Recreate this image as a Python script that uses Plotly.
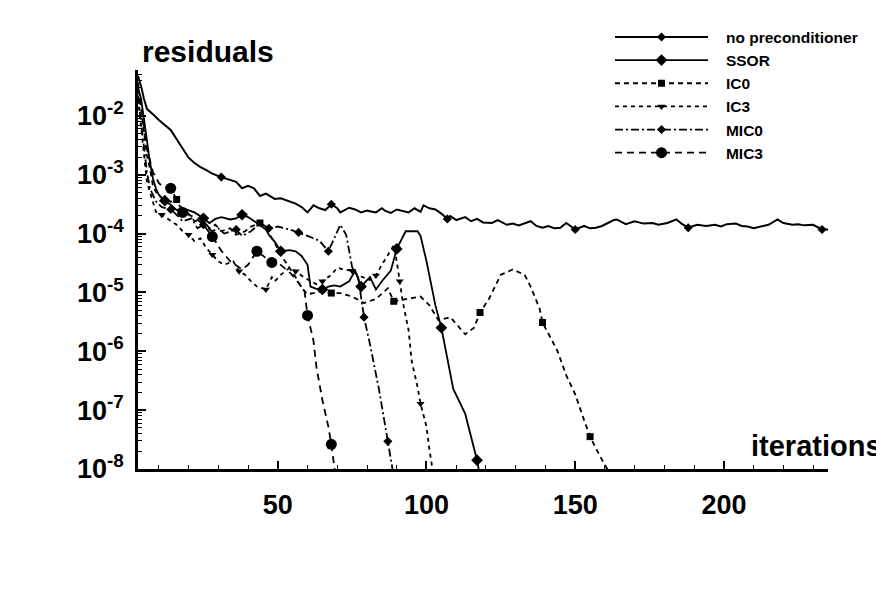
import plotly.graph_objects as go

# ---------------- data (iteration, log10 of residual) ----------------
it_none = [3, 4, 5, 6, 8, 10, 14, 16, 18, 20, 22, 24, 26, 28, 31, 34, 36, 38, 40, 42, 44, 46, 49, 51, 54, 56,
           58, 60, 62, 64, 66, 68, 70, 71, 74, 76, 78, 80, 83, 85, 86, 88, 90, 93, 94, 96, 98, 99, 101, 103,
           105, 107, 108, 110, 113, 115, 117, 119, 122, 124, 127, 129, 131, 135, 137, 139, 141, 143, 145, 147,
           150, 153, 155, 157, 159, 161, 163, 164, 167, 170, 173, 176, 178, 181, 184, 186, 188, 191, 194, 197,
           199, 201, 204, 206, 208, 210, 213, 215, 217, 218, 220, 223, 225, 227, 230, 233, 235]
lg_none = [-1.32, -1.49, -1.71, -1.88, -1.97, -2.07, -2.24, -2.40, -2.56, -2.71, -2.80, -2.87, -2.92, -2.98,
           -3.04, -3.09, -3.12, -3.23, -3.19, -3.23, -3.36, -3.32, -3.41, -3.40, -3.46, -3.49, -3.55, -3.64,
           -3.52, -3.57, -3.60, -3.50, -3.57, -3.64, -3.56, -3.59, -3.64, -3.61, -3.64, -3.57, -3.61, -3.65,
           -3.59, -3.63, -3.64, -3.57, -3.63, -3.52, -3.57, -3.59, -3.66, -3.75, -3.70, -3.77, -3.72, -3.79,
           -3.75, -3.81, -3.82, -3.77, -3.85, -3.83, -3.86, -3.79, -3.87, -3.90, -3.87, -3.91, -3.90, -3.82,
           -3.93, -3.87, -3.91, -3.90, -3.87, -3.82, -3.77, -3.76, -3.84, -3.79, -3.83, -3.82, -3.85, -3.82,
           -3.76, -3.84, -3.90, -3.85, -3.87, -3.85, -3.88, -3.84, -3.83, -3.87, -3.88, -3.91, -3.87, -3.85,
           -3.79, -3.76, -3.82, -3.85, -3.84, -3.86, -3.85, -3.93, -3.93]
mk_none = [31, 68, 107, 150, 188, 233]

it_ssor = [3, 4, 5, 6, 7, 8, 9, 10, 12, 14, 16, 18, 20, 22, 25, 27, 29, 31, 34, 36, 38, 40, 43, 46, 47, 49, 51,
           54, 56, 58, 60, 61, 63, 65, 67, 69, 71, 74, 76, 78, 81, 83, 85, 88, 90, 93, 97, 98, 100, 103, 105,
           107, 109, 113, 117, 119]
lg_ssor = [-1.54, -1.70, -2.05, -2.44, -2.78, -3.06, -3.23, -3.34, -3.44, -3.51, -3.60, -3.57, -3.61, -3.64,
           -3.74, -3.82, -3.75, -3.72, -3.76, -3.74, -3.68, -3.72, -3.82, -3.93, -4.02, -4.14, -4.30, -4.28,
           -4.30, -4.38, -4.53, -4.90, -4.94, -4.95, -4.90, -4.88, -4.90, -4.81, -4.63, -4.90, -4.74, -4.95,
           -4.81, -4.63, -4.26, -3.96, -3.96, -4.04, -4.47, -5.22, -5.60, -6.09, -6.64, -7.06, -7.85, -8.41]
mk_ssor = [12, 25, 38, 51, 65, 78, 90, 105, 117]

it_ic0 = [3, 4, 5, 6, 7, 8, 9, 11, 14, 16, 18, 20, 22, 25, 27, 29, 31, 34, 36, 39, 41, 44, 46, 49, 51, 54, 56,
          58, 60, 62, 65, 68, 71, 75, 79, 83, 87, 89, 94, 98, 101, 104, 108, 113, 116, 118, 121, 125, 129, 133,
          135, 138, 139, 141, 144, 147, 150, 153, 155, 158, 163]
lg_ic0 = [-1.43, -1.88, -2.33, -2.67, -2.89, -3.18, -3.29, -3.40, -3.46, -3.42, -3.59, -3.66, -3.79, -3.77,
          -3.91, -3.85, -3.96, -3.91, -4.02, -3.96, -3.88, -3.82, -3.91, -4.16, -4.36, -4.58, -4.74, -4.92,
          -5.03, -5.01, -4.98, -5.01, -5.01, -5.07, -5.18, -5.11, -4.93, -5.15, -5.11, -5.07, -5.22, -5.47,
          -5.42, -5.71, -5.60, -5.34, -5.11, -4.70, -4.61, -4.70, -4.90, -5.27, -5.51, -5.71, -5.99, -6.41,
          -6.73, -7.17, -7.45, -7.75, -8.20]
mk_ic0 = [16, 44, 68, 89, 118, 139, 155]

it_ic3 = [3, 4, 5, 6, 8, 9, 11, 14, 16, 18, 20, 22, 24, 26, 28, 30, 32, 35, 37, 39, 41, 43, 46, 48, 49, 51, 54,
          56, 59, 61, 63, 65, 68, 70, 72, 75, 77, 81, 83, 85, 87, 89, 90, 91, 92, 94, 95, 97, 98, 100, 101, 103]
lg_ic3 = [-1.71, -2.22, -2.73, -3.12, -3.46, -3.63, -3.68, -3.79, -3.85, -3.96, -4.02, -4.13, -4.08, -4.25,
          -4.36, -4.47, -4.53, -4.47, -4.64, -4.70, -4.81, -4.90, -4.95, -4.74, -4.81, -4.70, -4.58, -4.64,
          -4.75, -4.81, -4.86, -4.81, -4.70, -4.58, -4.61, -4.63, -4.71, -4.79, -4.71, -4.53, -4.37, -4.20,
          -4.47, -4.81, -5.15, -5.65, -6.16, -6.61, -6.89, -7.28, -7.68, -8.30]
mk_ic3 = [11, 20, 28, 37, 46, 56, 65, 75, 83, 91, 98]

it_mic0 = [3, 4, 5, 6, 7, 8, 9, 11, 14, 16, 18, 21, 23, 25, 28, 30, 32, 36, 38, 41, 44, 47, 50, 54, 57, 60, 64,
           67, 69, 71, 73, 75, 77, 79, 81, 84, 87, 89]
lg_mic0 = [-1.66, -2.11, -2.56, -2.95, -3.23, -3.34, -3.45, -3.55, -3.59, -3.68, -3.79, -3.74, -3.91, -3.85,
           -3.96, -3.91, -4.00, -3.93, -4.04, -3.96, -3.82, -3.91, -3.88, -3.93, -3.98, -4.04, -4.12, -4.30,
           -4.08, -3.85, -4.02, -4.57, -4.74, -5.42, -5.88, -6.64, -7.53, -8.13]
mk_mic0 = [14, 25, 36, 47, 57, 67, 79, 87]

it_mic3 = [3, 4, 5, 6, 8, 10, 11, 14, 16, 18, 20, 22, 25, 28, 31, 34, 38, 40, 43, 46, 48, 50, 54, 56, 59, 60,
           62, 63, 65, 67, 68, 69, 70]
lg_mic3 = [-1.49, -1.83, -2.22, -2.56, -2.95, -3.14, -3.19, -3.23, -3.42, -3.64, -3.68, -3.72, -3.85, -4.05,
           -4.29, -4.47, -4.61, -4.53, -4.30, -4.41, -4.49, -4.49, -4.66, -4.77, -4.98, -5.39, -5.82, -6.27,
           -6.83, -7.28, -7.58, -7.96, -8.41]
mk_mic3 = [14, 18, 28, 43, 48, 60, 68]

x_ticks = [50, 100, 150, 200]
y_exps = [-8, -7, -6, -5, -4, -3, -2]

# ---------------- styling ----------------
FONT = "Liberation Sans, Arial, sans-serif"
PAD = "\u00a0\u00a0\u00a0"
series = [
    dict(name="no preconditioner", it=it_none, lg=lg_none, mk=mk_none, dash="solid", width=2.0,
         symbol="diamond", size=7),
    dict(name="SSOR", it=it_ssor, lg=lg_ssor, mk=mk_ssor, dash="solid", width=1.8,
         symbol="diamond", size=9),
    dict(name="IC0", it=it_ic0, lg=lg_ic0, mk=mk_ic0, dash="5px,4px", width=1.8,
         symbol="square", size=7),
    dict(name="IC3", it=it_ic3, lg=lg_ic3, mk=mk_ic3, dash="4px,4px", width=1.8,
         symbol="triangle-down", size=7),
    dict(name="MIC0", it=it_mic0, lg=lg_mic0, mk=mk_mic0, dash="8px,3px,2px,3px", width=1.8,
         symbol="diamond", size=7),
    dict(name="MIC3", it=it_mic3, lg=lg_mic3, mk=mk_mic3, dash="7px,5px", width=1.8,
         symbol="circle", size=11),
]

fig = go.Figure()
for s in series:
    ys = [10 ** v for v in s["lg"]]
    fig.add_trace(go.Scatter(x=s["it"], y=ys, mode="lines",
                             line=dict(color="black", width=s["width"], dash=s["dash"]),
                             showlegend=False, hoverinfo="skip"))
    lookup = dict(zip(s["it"], ys))
    mx, my = [], []
    for m in s["mk"]:
        k = min(s["it"], key=lambda t: abs(t - m))
        mx.append(k)
        my.append(lookup[k])
    fig.add_trace(go.Scatter(x=mx, y=my, mode="markers",
                             marker=dict(symbol=s["symbol"], size=s["size"], color="black",
                                         line=dict(width=0)),
                             showlegend=False, hoverinfo="skip"))
    fig.add_trace(go.Scatter(x=[None], y=[None], mode="lines+markers", name=PAD + s["name"],
                             line=dict(color="black", width=s["width"], dash=s["dash"]),
                             marker=dict(symbol=s["symbol"], size=s["size"], color="black",
                                         line=dict(width=0))))

L, R, T, B = 130, 64, 43, 128
W, H = 884, 589
pw, ph = W - L - R, H - T - B
bottom = H - B

fig.update_layout(
    width=W, height=H, autosize=False,
    margin=dict(l=L, r=R, t=T, b=B, pad=0),
    paper_bgcolor="white", plot_bgcolor="white",
    font=dict(family=FONT, color="black"),
    showlegend=True,
    legend=dict(x=(602 - L) / pw, y=(bottom + 9) / ph, xanchor="left", yanchor="top",
                bgcolor="rgba(0,0,0,0)", itemwidth=93, borderwidth=0,
                font=dict(family=FONT, size=15.5, weight="bold", color="black")),
    xaxis=dict(range=[3, 235], tickmode="array", tickvals=x_ticks,
               ticktext=[str(v) for v in x_ticks],
               ticks="inside", ticklen=8, tickwidth=1.5, tickcolor="black",
               showline=True, linecolor="black", linewidth=2.5, mirror=False,
               showgrid=False, zeroline=False, ticklabelstandoff=10,
               tickfont=dict(family=FONT, size=27, weight="bold"),
               minor=dict(ticks="inside", ticklen=4, tickwidth=1, tickcolor="black",
                          dtick=10, tick0=0, showgrid=False)),
    yaxis=dict(type="log", range=[-8, -1.22], tickmode="array",
               tickvals=[10 ** e for e in y_exps],
               ticktext=["10<sup>%d</sup>" % e for e in y_exps],
               ticks="inside", ticklen=8, tickwidth=1.5, tickcolor="black",
               showline=True, linecolor="black", linewidth=2.5, mirror=False,
               showgrid=False, zeroline=False, ticklabelstandoff=6,
               tickfont=dict(family=FONT, size=27, weight="bold"),
               minor=dict(ticks="inside", ticklen=4, tickwidth=1, tickcolor="black",
                          dtick="D1", showgrid=False)),
    annotations=[
        dict(text="residuals", xref="paper", yref="paper", x=(132 - L) / pw,
             y=(bottom - 24) / ph, xanchor="left", yanchor="middle", showarrow=False,
             font=dict(family=FONT, size=30, weight="bold", color="black")),
        dict(text="iterations", xref="paper", yref="paper", x=(876 - L) / pw,
             y=(bottom - 437) / ph, xanchor="right", yanchor="middle", showarrow=False,
             font=dict(family=FONT, size=29, weight="bold", color="black")),
    ],
)

fig.write_html("out.html")
